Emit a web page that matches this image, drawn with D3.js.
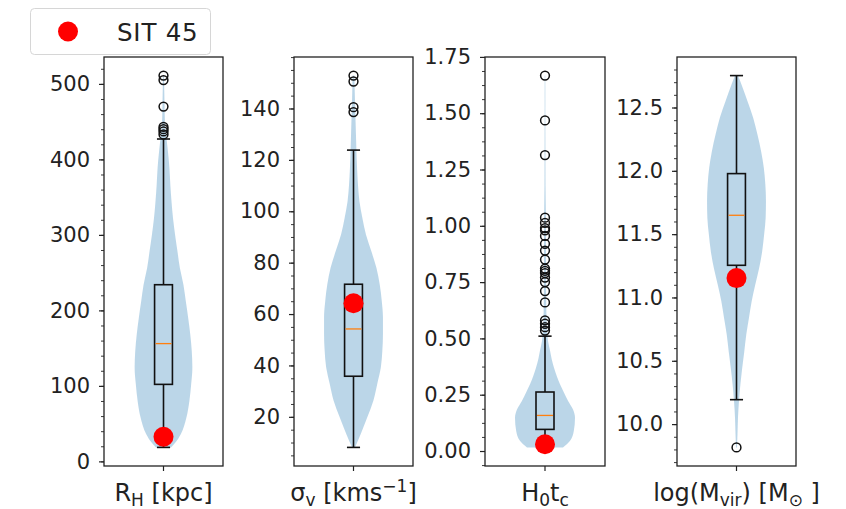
<!DOCTYPE html>
<html><head><meta charset="utf-8">
<script src="https://cdn.jsdelivr.net/npm/d3@7"></script>
<style>body{margin:0;background:#fff}svg{display:block}text{font-family:"DejaVu Sans",sans-serif;fill:#222}</style>
</head><body><svg id="c" width="846" height="509"></svg>
<script>
// ---- data ----
// violin profiles: [value, relative half-width]
const rhViolin = [[18.5,0.25],[25,0.4],[36,0.58],[58,0.77],[80,0.87],[102,0.93],[124,0.97],[146,0.95],[168,0.9],[190,0.83],[212,0.75],[234,0.67],[256,0.55],[278,0.47],[300,0.39],[322,0.32],[344,0.27],[366,0.23],[388,0.2],[410,0.15],[428,0.1],[446,0.05],[476,0.033],[511,0.017]];
const svViolin = [[8.1,0.05],[13.5,0.25],[20,0.47],[26.4,0.67],[32.9,0.8],[39.3,0.92],[45.8,0.97],[52.2,0.99],[58.6,0.99],[65.1,0.95],[71.6,0.88],[78,0.77],[84.4,0.6],[90.9,0.42],[97.3,0.3],[103.8,0.2],[110.3,0.15],[116.7,0.12],[123,0.1],[129.6,0.083],[136,0.067],[142.5,0.05],[152.8,0.03]];
const htViolin = [[0.016,0.6],[0.044,0.83],[0.089,0.96],[0.148,1.0],[0.185,0.93],[0.222,0.77],[0.26,0.63],[0.296,0.5],[0.33,0.4],[0.37,0.3],[0.41,0.22],[0.444,0.17],[0.488,0.1],[0.533,0.07],[0.62,0.045],[0.74,0.035],[1.04,0.03],[1.18,0.017],[1.667,0.01]];
const lmViolin = [[9.816,0.017],[9.92,0.033],[10.05,0.05],[10.18,0.083],[10.31,0.13],[10.44,0.19],[10.57,0.26],[10.71,0.33],[10.84,0.42],[10.97,0.51],[11.10,0.63],[11.23,0.76],[11.36,0.86],[11.50,0.93],[11.63,0.98],[11.76,0.99],[11.89,0.97],[12.02,0.92],[12.15,0.83],[12.29,0.7],[12.42,0.56],[12.55,0.37],[12.68,0.17],[12.752,0.05]];
// box stats: [whisker low, q1, median, q3, whisker high]
const rhStats = [18.5, 102, 156, 234, 427];
const svStats = [8.1, 35.8, 54.2, 71.6, 123.8];
const htStats = [0.016, 0.096, 0.158, 0.262, 0.51];
const lmStats = [10.193, 11.254, 11.649, 11.978, 12.752];
// outliers (fliers)
const rhOutliers = [511, 505, 470, 443, 440, 437, 433];
const svOutliers = [152.8, 150.5, 140.5, 138.6];
const htOutliers = [1.667, 1.468, 1.314, 1.036, 1.013, 0.99, 0.98, 0.955, 0.92, 0.89, 0.85, 0.81, 0.80, 0.79, 0.77, 0.75, 0.71, 0.66, 0.58, 0.565, 0.55, 0.535];
const lmOutliers = [9.816];
// SIT 45 values
const sitValues = [32.6, 64.2, 0.030, 11.153];
const legendLabel = "SIT 45";
// tick labels
const rhTicks = [0, 100, 200, 300, 400, 500];
const svTicks = [20, 40, 60, 80, 100, 120, 140];
const htTicks = [0.00, 0.25, 0.50, 0.75, 1.00, 1.25, 1.50, 1.75];
const lmTicks = [10.0, 10.5, 11.0, 11.5, 12.0, 12.5];
const minorSteps = [20, 5, 0.0625, 0.1];
const tickFormats = [".0f", ".0f", ".2f", ".1f"];
// axis labels as [text, kind] segments
const xLabels = [
  [["R",""],["H","sub"],[" [kpc]",""]],
  [["σ",""],["v","sub"],[" [kms",""],["−1","sup"],["]",""]],
  [["H",""],["0","sub"],["t",""],["c","sub"]],
  [["log(M",""],["vir","sub"],[") [M",""],["⊙","sub"],[" ]",""]]
];

// ---- layout ----
const svg = d3.select("#c");
const topY = 57, bottomY = 466;
const panelX = [[104,223],[294,413],[485,605],[677,796]];
const panels = [
  {violin: rhViolin, stats: rhStats, out: rhOutliers, ticks: rhTicks},
  {violin: svViolin, stats: svStats, out: svOutliers, ticks: svTicks},
  {violin: htViolin, stats: htStats, out: htOutliers, ticks: htTicks},
  {violin: lmViolin, stats: lmStats, out: lmOutliers, ticks: lmTicks}
];

panels.forEach((p, i) => {
  const vals = p.violin.map(d => d[0]).concat(p.out, [p.stats[0], p.stats[4]]);
  const lo = d3.min(vals), hi = d3.max(vals), pad = (hi - lo) * 0.05;
  const y = d3.scaleLinear().domain([lo - pad, hi + pad]).range([bottomY, topY]);
  const x = d3.scaleLinear().domain([0.5, 1.5]).range(panelX[i]);
  const g = svg.append("g");
  const cx = x(1);

  // violin
  const area = d3.area()
    .y(d => y(d[0]))
    .x0(d => x(1 - 0.25 * d[1]))
    .x1(d => x(1 + 0.25 * d[1]))
    .curve(d3.curveMonotoneY);
  g.append("path").datum(p.violin).attr("d", area)
    .attr("fill", "#1f77b4").attr("fill-opacity", 0.3).attr("stroke", "none");

  // box
  const [wl, q1, med, q3, wh] = p.stats;
  const bw = 0.15, cw = 0.11;
  const line = (x1, y1, x2, y2, col, w) => g.append("line").attr("x1", x1).attr("y1", y1).attr("x2", x2).attr("y2", y2)
    .attr("stroke", col).attr("stroke-width", w);
  line(cx, y(q3), cx, y(wh), "#111", 1.6);
  line(cx, y(q1), cx, y(wl), "#111", 1.6);
  line(x(1 - cw/2), y(wh), x(1 + cw/2), y(wh), "#111", 1.6);
  line(x(1 - cw/2), y(wl), x(1 + cw/2), y(wl), "#111", 1.6);
  g.append("rect").attr("x", x(1 - bw/2)).attr("y", y(q3)).attr("width", x(1 + bw/2) - x(1 - bw/2)).attr("height", y(q1) - y(q3))
    .attr("fill", "none").attr("stroke", "#111").attr("stroke-width", 1.6);
  line(x(1 - bw/2) + 1, y(med), x(1 + bw/2) - 1, y(med), "#ff7f0e", 1.3);

  // outliers
  g.selectAll("circle.o").data(p.out).join("circle").attr("class", "o")
    .attr("cx", cx).attr("cy", d => y(d)).attr("r", 4.4)
    .attr("fill", "none").attr("stroke", "#111").attr("stroke-width", 1.5);

  // SIT 45 point
  g.append("circle").attr("cx", cx).attr("cy", y(sitValues[i])).attr("r", 10).attr("fill", "#ff0000");

  // frame
  g.append("rect").attr("x", panelX[i][0]).attr("y", topY).attr("width", panelX[i][1] - panelX[i][0]).attr("height", bottomY - topY)
    .attr("fill", "none").attr("stroke", "#222").attr("stroke-width", 1.3);

  // y axis
  const [d0, d1] = y.domain();
  const st = minorSteps[i];
  const minor = d3.range(Math.ceil(d0 / st), Math.floor(d1 / st) + 1).map(k => k * st);
  const ax = d3.axisLeft(y).tickValues(p.ticks).tickFormat(d3.format(tickFormats[i])).tickSize(5).tickPadding(9);
  const ag = g.append("g").attr("transform", `translate(${panelX[i][0]},0)`).call(ax);
  ag.select(".domain").remove();
  ag.selectAll(".tick line").attr("stroke", "#222").attr("stroke-width", 1.2);
  ag.selectAll(".tick text").attr("font-size", 21).attr("font-family", "DejaVu Sans").attr("fill", "#222");
  const mg = g.append("g").attr("transform", `translate(${panelX[i][0]},0)`)
    .call(d3.axisLeft(y).tickValues(minor).tickSize(3).tickFormat(""));
  mg.select(".domain").remove();
  mg.selectAll(".tick line").attr("stroke", "#222").attr("stroke-width", 0.9);

  // x tick
  line(cx, bottomY, cx, bottomY + 5, "#222", 1.2);

  // x label
  const t = g.append("text").attr("x", cx).attr("y", 501).attr("text-anchor", "middle").attr("font-size", 24);
  let shift = 0;
  xLabels[i].forEach(([s, kind]) => {
    const target = kind === "sub" ? 4.5 : kind === "sup" ? -9.5 : 0;
    const ts = t.append("tspan").text(s).attr("dy", target - shift);
    if (kind) ts.attr("font-size", 17);
    shift = target;
  });
});

// legend
const lg = svg.append("g");
lg.append("rect").attr("x", 30.5).attr("y", 8.5).attr("width", 180).attr("height", 46).attr("rx", 4)
  .attr("fill", "#fff").attr("fill-opacity", 0.8).attr("stroke", "#d6d6d6").attr("stroke-width", 1);
lg.append("circle").attr("cx", 68).attr("cy", 31.5).attr("r", 10).attr("fill", "#ff0000");
lg.append("text").attr("x", 117).attr("y", 40.5).attr("font-size", 24.5).attr("letter-spacing", 0.8).text(legendLabel);
</script></body></html>
